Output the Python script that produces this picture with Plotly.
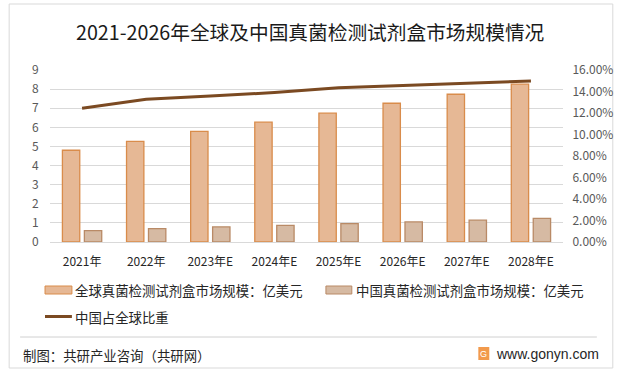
import plotly.graph_objects as go

categories = ["2021年", "2022年", "2023年E", "2024年E", "2025年E", "2026年E", "2027年E", "2028年E"]
global_size = [4.80, 5.27, 5.79, 6.27, 6.74, 7.26, 7.73, 8.26]
china_size = [0.60, 0.70, 0.79, 0.87, 0.96, 1.05, 1.14, 1.24]
china_share = [0.1244, 0.1327, 0.1358, 0.1390, 0.1435, 0.1454, 0.1479, 0.1498]

name_global = "全球真菌检测试剂盒市场规模：亿美元"
name_china = "中国真菌检测试剂盒市场规模：亿美元"
name_share = "中国占全球比重"
title_text = "2021-2026年全球及中国真菌检测试剂盒市场规模情况"
left_ticks = list(range(0, 10))
right_ticks = [0, 0.02, 0.04, 0.06, 0.08, 0.10, 0.12, 0.14, 0.16]

FONT = "Noto Sans CJK SC, Microsoft YaHei, sans-serif"
c_global, c_global_line = "#E6B895", "#D98C4B"
c_china, c_china_line = "#D6BAA3", "#B98A66"
c_share = "#7B4A22"

fig = go.Figure()
fig.add_trace(go.Bar(x=categories, y=global_size, name=name_global,
                     marker=dict(color=c_global, line=dict(color=c_global_line, width=1.3))))
fig.add_trace(go.Bar(x=categories, y=china_size, name=name_china,
                     marker=dict(color=c_china, line=dict(color=c_china_line, width=1.3))))
fig.add_trace(go.Scatter(x=categories, y=china_share, name=name_share, yaxis="y2",
                         mode="lines", line=dict(color=c_share, width=3)))

L, R, T, B = 50, 60, 70, 132
W, H = 625, 374
pw, ph = W - L - R, H - T - B


def px(x):
    return (x - L) / pw


def py(y):
    return (H - B - y) / ph


shapes = []
annotations = []
# outer border
shapes.append(dict(type="rect", xref="paper", yref="paper", x0=px(9), x1=px(615), y0=py(4), y1=py(368),
                   line=dict(color="#D9D9D9", width=1), fillcolor="rgba(0,0,0,0)", layer="below"))
# separator
shapes.append(dict(type="line", xref="paper", yref="paper", x0=px(20), x1=px(599), y0=py(337), y1=py(337),
                   line=dict(color="#D0D0D0", width=1)))
# legend swatches
shapes.append(dict(type="rect", xref="paper", yref="paper", x0=px(45), x1=px(72), y0=py(286), y1=py(294),
                   fillcolor=c_global, line=dict(color=c_global_line, width=1)))
shapes.append(dict(type="rect", xref="paper", yref="paper", x0=px(327), x1=px(353), y0=py(286), y1=py(294),
                   fillcolor=c_china, line=dict(color=c_china_line, width=1)))
shapes.append(dict(type="line", xref="paper", yref="paper", x0=px(45), x1=px(72), y0=py(316.5), y1=py(316.5),
                   line=dict(color=c_share, width=3)))
# logo
shapes.append(dict(type="rect", xref="paper", yref="paper", x0=px(480), x1=px(491), y0=py(347), y1=py(360),
                   fillcolor="#F29A4C", line=dict(width=0)))

txt_font = dict(family=FONT, size=13.4, color="#262626")
annotations.append(dict(text=name_global, xref="paper", yref="paper", x=px(73), y=py(290),
                        xanchor="left", yanchor="middle", showarrow=False, font=txt_font))
annotations.append(dict(text=name_china, xref="paper", yref="paper", x=px(355), y=py(290),
                        xanchor="left", yanchor="middle", showarrow=False, font=txt_font))
annotations.append(dict(text=name_share, xref="paper", yref="paper", x=px(73), y=py(316.5),
                        xanchor="left", yanchor="middle", showarrow=False, font=txt_font))
annotations.append(dict(text="制图：共研产业咨询（共研网）", xref="paper", yref="paper", x=px(21), y=py(355),
                        xanchor="left", yanchor="middle", showarrow=False, font=txt_font))
annotations.append(dict(text="www.gonyn.com", xref="paper", yref="paper", x=px(496), y=py(354),
                        xanchor="left", yanchor="middle", showarrow=False,
                        font=dict(family="Arial, Liberation Sans, sans-serif", size=14, color="#262626")))
annotations.append(dict(text="G", xref="paper", yref="paper", x=px(485.5), y=py(353.5),
                        xanchor="center", yanchor="middle", showarrow=False,
                        font=dict(family="Arial, sans-serif", size=9, color="white")))
annotations.append(dict(text=title_text, xref="paper", yref="paper", x=px(312), y=py(31),
                        xanchor="center", yanchor="middle", showarrow=False,
                        font=dict(family=FONT, size=19.7, color="#1a1a1a")))

fig.update_layout(
    width=W, height=H,
    margin=dict(l=L, r=R, t=T, b=B),
    paper_bgcolor="white", plot_bgcolor="white",
    barmode="group", bargap=0.315, bargroupgap=0.21,
    showlegend=False,
    font=dict(family=FONT, size=12, color="#595959"),
    xaxis=dict(type="category", showgrid=False, showline=True, linecolor="#D9D9D9",
               ticks="outside", ticklen=9, tickcolor="rgba(0,0,0,0)",
               tickfont=dict(family=FONT, size=12, color="#262626")),
    yaxis=dict(range=[0, 9], tickvals=left_ticks, showgrid=True, gridcolor="#D9D9D9", gridwidth=1,
               zeroline=False, ticks="outside", ticklen=8, tickcolor="rgba(0,0,0,0)",
               tickfont=dict(family=FONT, size=12, color="#595959")),
    yaxis2=dict(range=[0, 0.16], tickvals=right_ticks, tickformat=".2%", overlaying="y", side="right",
                showgrid=False, zeroline=False, ticks="outside", ticklen=6, tickcolor="rgba(0,0,0,0)",
                tickfont=dict(family=FONT, size=12, color="#595959")),
    shapes=shapes, annotations=annotations,
)

fig.write_html("out.html", config={"displayModeBar": False},
               post_script="document.body.style.margin='0px';document.body.style.padding='0px';")
